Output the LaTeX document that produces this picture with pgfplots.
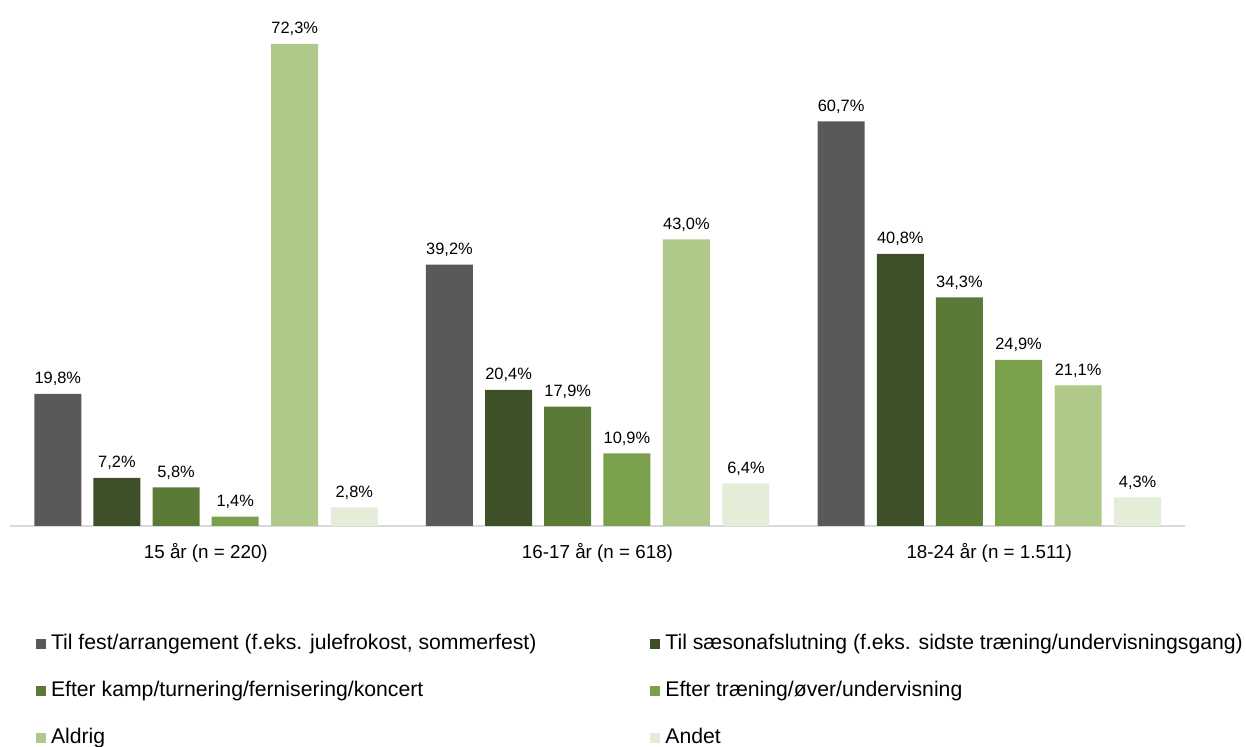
\documentclass[border=0pt]{standalone}
\usepackage{pgfplots}
\pgfplotsset{compat=1.18}
\usepackage{fontspec}
\setmainfont{Liberation Sans}
\definecolor{c1}{HTML}{595959}
\definecolor{c2}{HTML}{3D5028}
\definecolor{c3}{HTML}{5B7937}
\definecolor{c4}{HTML}{7AA04B}
\definecolor{c5}{HTML}{AFC98B}
\definecolor{c6}{HTML}{E3EDD8}
\definecolor{axgray}{HTML}{D9D9D9}
\pgfplotsset{
  bs/.style={ybar, bar shift=#1, draw=none,
    every node near coord/.append style={shift={(axis direction cs:#1,0)}}},
}
\begin{document}
\begin{tikzpicture}
\useasboundingbox (0,0) rectangle (623pt,373.5pt);
\begin{axis}[
  at={(5pt,110.5pt)}, anchor=south west,
  scale only axis, width=587.5pt, height=263pt,
  xmin=-0.5, xmax=2.5, ymin=0, ymax=78.9,
  enlargelimits=false, clip=false,
  axis x line*=bottom, axis y line=none,
  x axis line style={draw=axgray, line width=1pt, -},
  major tick length=0pt, ytick=\empty,
  xtick={0,1,2},
  xticklabels={{15 år (n = 220)},{16-17 år (n = 618)},{18-24 år (n = 1.511)}},
  xticklabel style={font=\fontsize{9.4}{11}\selectfont, yshift=-5pt},
  /pgf/number format/assume math mode=true,
  bar width=0.12,
  nodes near coords={\pgfmathprintnumber[fixed,fixed zerofill,precision=1,use comma]{\pgfplotspointmeta}\%},
  every node near coord/.append style={font=\fontsize{8.2}{9}\selectfont, text=black, yshift=0.5pt},
  legend image code/.code={\fill[#1] (0pt,-2.5pt) rectangle (5pt,2.5pt);},
  legend columns=2,
  legend cell align=left,
  legend style={draw=none, fill=none, inner sep=0pt, at={(0.0218,-0.2053)}, anchor=north west,
    font=\fontsize{10.6}{12}\selectfont, row sep=13.5pt,
    nodes={inner sep=0pt, text height=7.5pt, text depth=2.5pt},
    /tikz/every odd column/.append style={column sep=2.5pt},
    /tikz/every even column/.append style={column sep=57pt}},
]
\addplot[bs=-0.378, fill=c1] coordinates {(0,19.8) (1,39.2) (2,60.7)};
\addlegendentry{Til fest/arrangement (f.eks. julefrokost, sommerfest)}
\addplot[bs=-0.227, fill=c2] coordinates {(0,7.2) (1,20.4) (2,40.8)};
\addlegendentry{Til sæsonafslutning (f.eks. sidste træning/undervisningsgang)}
\addplot[bs=-0.076, fill=c3] coordinates {(0,5.8) (1,17.9) (2,34.3)};
\addlegendentry{Efter kamp/turnering/fernisering/koncert}
\addplot[bs=0.075, fill=c4] coordinates {(0,1.4) (1,10.9) (2,24.9)};
\addlegendentry{Efter træning/øver/undervisning}
\addplot[bs=0.227, fill=c5] coordinates {(0,72.3) (1,43.0) (2,21.1)};
\addlegendentry{Aldrig}
\addplot[bs=0.379, fill=c6] coordinates {(0,2.8) (1,6.4) (2,4.3)};
\addlegendentry{Andet}
\end{axis}
\end{tikzpicture}
\end{document}
